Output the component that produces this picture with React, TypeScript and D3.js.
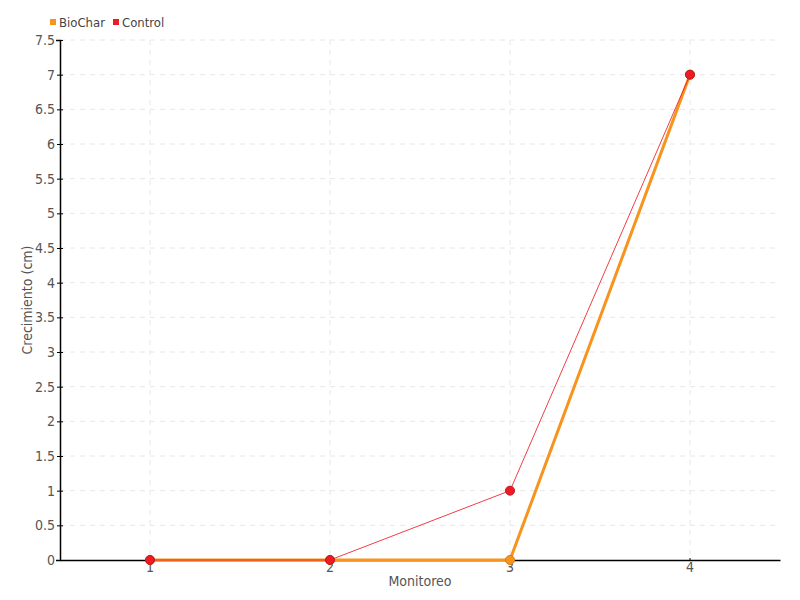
import React, { useRef, useEffect } from 'react';
import * as d3 from 'd3';

const categories = ['1', '2', '3', '4'];
const biochar = [0, 0, 0, 7];
const control = [0, 0, 1, 7];
const yTicks = [0, 0.5, 1, 1.5, 2, 2.5, 3, 3.5, 4, 4.5, 5, 5.5, 6, 6.5, 7, 7.5];

const FONT = '"Liberation Sans Narrow", "DejaVu Sans Condensed", sans-serif';

const series = [
  { name: 'BioChar', values: biochar, color: '#f7941d', stroke: '#d87a10', width: 3 },
  { name: 'Control', values: control, color: '#ed1c24', stroke: '#c0151c', width: 1 },
];

const App = () => {
  const svgRef = useRef(null);

  useEffect(() => {
    const svg = d3.select(svgRef.current);
    svg.selectAll('*').remove();

    const margin = { top: 40, right: 20, bottom: 40, left: 60 };
    const width = 800 - margin.left - margin.right;
    const height = 600 - margin.top - margin.bottom;

    const g = svg.append('g').attr('transform', `translate(${margin.left},${margin.top})`);

    const x = d3.scaleBand().domain(categories).range([0, width]);
    const y = d3.scaleLinear().domain([0, 7.5]).range([height, 0]);
    const cx = (c) => x(c) + x.bandwidth() / 2;

    // grid
    g.append('g')
      .selectAll('line')
      .data(yTicks.filter(t => t > 0))
      .enter().append('line')
      .attr('x1', 0).attr('x2', width)
      .attr('y1', d => y(d)).attr('y2', d => y(d))
      .attr('stroke', '#e6e6e6')
      .attr('stroke-dasharray', '5,5');

    g.append('g')
      .selectAll('line')
      .data(categories)
      .enter().append('line')
      .attr('x1', d => cx(d)).attr('x2', d => cx(d))
      .attr('y1', 0).attr('y2', height)
      .attr('stroke', '#e6e6e6')
      .attr('stroke-dasharray', '5,5');

    // y axis
    const yAxis = g.append('g')
      .call(d3.axisLeft(y).tickValues(yTicks).tickSize(4).tickFormat(d3.format('')));
    yAxis.select('.domain').attr('stroke', '#000').attr('stroke-width', 1.5);
    yAxis.selectAll('.tick line').attr('x2', 3).attr('x1', -3).attr('stroke', '#000');
    yAxis.selectAll('text')
      .attr('x', -5)
      .attr('fill', '#555')
      .style('font-family', FONT)
      .style('font-size', '14px');

    // x axis
    const xAxis = g.append('g')
      .attr('transform', `translate(0,${height})`)
      .call(d3.axisBottom(x).tickSizeOuter(0).tickSize(0).tickPadding(2));
    xAxis.select('.domain').attr('stroke', '#000').attr('stroke-width', 1.5);
    xAxis.selectAll('.tick line').attr('y2', -2).attr('stroke', '#000');
    xAxis.selectAll('text')
      .attr('fill', '#555')
      .style('font-family', FONT)
      .style('font-size', '14px');

    // axis titles
    g.append('text')
      .attr('transform', `translate(${-28},${height / 2}) rotate(-90)`)
      .attr('text-anchor', 'middle')
      .attr('fill', '#555')
      .style('font-family', FONT)
      .style('font-size', '14px')
      .text('Crecimiento (cm)');

    g.append('text')
      .attr('x', width / 2)
      .attr('y', height + 26)
      .attr('text-anchor', 'middle')
      .attr('fill', '#555')
      .style('font-family', FONT)
      .style('font-size', '14px')
      .text('Monitoreo');

    // lines
    const line = d3.line()
      .x((d, i) => cx(categories[i]))
      .y(d => y(d));

    series.forEach(s => {
      g.append('path')
        .datum(s.values)
        .attr('fill', 'none')
        .attr('stroke', s.color)
        .attr('stroke-width', s.width)
        .attr('opacity', s.width === 1 ? 0.85 : 1)
        .attr('d', line);
    });

    series.forEach(s => {
      g.append('g')
        .selectAll('circle')
        .data(s.values)
        .enter().append('circle')
        .attr('cx', (d, i) => cx(categories[i]))
        .attr('cy', d => y(d))
        .attr('r', 4.5)
        .attr('fill', s.color)
        .attr('stroke', s.stroke)
        .attr('stroke-width', 1);
    });

    // legend
    const legend = svg.append('g').attr('transform', 'translate(50,16)');
    let lx = 0;
    series.forEach(s => {
      const item = legend.append('g').attr('transform', `translate(${lx},0)`);
      item.append('rect')
        .attr('x', 0).attr('y', 3)
        .attr('width', 6).attr('height', 6)
        .attr('fill', s.color);
      const t = item.append('text')
        .attr('x', 9).attr('y', 11)
        .attr('fill', '#444')
        .style('font-family', FONT)
        .style('font-size', '13px')
        .text(s.name);
      lx += 9 + t.node().getComputedTextLength() + 8;
    });
  }, []);

  return (
    <div style={{ width: 800, height: 600 }}>
      <svg ref={svgRef} width={800} height={600} style={{ position: 'absolute', left: 0, top: 0 }}></svg>
    </div>
  );
};

export default App;
